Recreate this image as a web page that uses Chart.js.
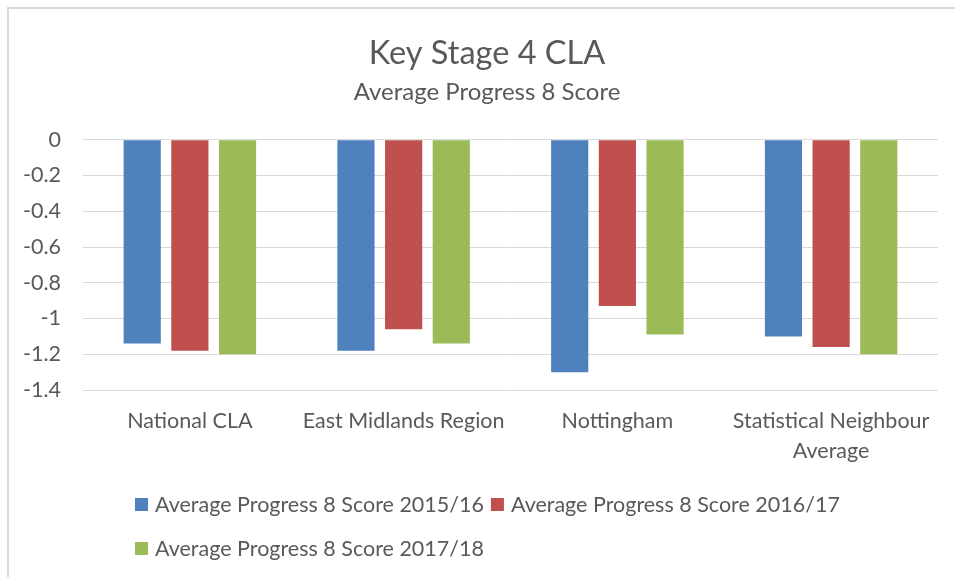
<!DOCTYPE html>
<html>
<head>
<meta charset="utf-8">
<title>Key Stage 4 CLA</title>
<script src="https://cdn.jsdelivr.net/npm/chart.js@4.4.0/dist/chart.umd.min.js"></script>
<style>
  html, body { margin: 0; padding: 0; background: #fff; }
  #frame { position: absolute; left: 7px; top: 7px; width: 1000px; height: 1000px; border: 2px solid #d9d9d9; box-sizing: border-box; }
  #wrap { position: absolute; left: 0; top: 0; width: 955px; height: 577px; }
</style>
</head>
<body>
<div id="frame"></div>
<div id="wrap"><canvas id="chart"></canvas></div>
<script>
const categories = ['National CLA', 'East Midlands Region', 'Nottingham', ['Statistical Neighbour', 'Average']];
const seriesNames = ['Average Progress 8 Score 2015/16', 'Average Progress 8 Score 2016/17', 'Average Progress 8 Score 2017/18'];
const score1516 = [-1.14, -1.18, -1.30, -1.10];
const score1617 = [-1.18, -1.06, -0.93, -1.16];
const score1718 = [-1.20, -1.14, -1.09, -1.20];
const seriesColors = ['#4f81bd', '#c0504d', '#9bbb59'];

const FONT = 'Lato';
const TEXT = '#595959';

// Excel-style legend: rows start at the same x instead of being centred
const legendPlugin = {
  id: 'excelLegend',
  afterDraw(chart) {
    const ctx = chart.ctx;
    ctx.save();
    ctx.font = '21.5px ' + FONT;
    ctx.textBaseline = 'middle';
    let x = 135, y = 504;
    chart.data.datasets.forEach(ds => {
      const w = 13 + 7 + ctx.measureText(ds.label).width;
      if (x > 135 && x + w > 880) { x = 135; y += 44; }
      ctx.fillStyle = ds.backgroundColor;
      ctx.fillRect(x, y - 6, 13, 13);
      ctx.fillStyle = TEXT;
      ctx.fillText(ds.label, x + 20, y + 1);
      x += w + 7;
    });
    ctx.restore();
  }
};

new Chart(document.getElementById('chart'), {
  type: 'bar',
  data: {
    labels: categories,
    datasets: [
      { label: seriesNames[0], data: score1516, backgroundColor: seriesColors[0] },
      { label: seriesNames[1], data: score1617, backgroundColor: seriesColors[1] },
      { label: seriesNames[2], data: score1718, backgroundColor: seriesColors[2] }
    ]
  },
  options: {
    responsive: true,
    maintainAspectRatio: false,
    animation: false,
    categoryPercentage: 0.669,
    barPercentage: 0.78,
    // uneven side padding puts the titles' centre where Excel has it
    layout: { padding: { left: 20, right: 1, top: 0, bottom: 100 } },
    plugins: {
      legend: { display: false },
      tooltip: { enabled: false },
      title: {
        display: true,
        text: 'Key Stage 4 CLA',
        color: TEXT,
        font: { family: FONT, size: 32.5, weight: 'normal', lineHeight: 1.2 },
        padding: { top: 34, bottom: 0 }
      },
      subtitle: {
        display: true,
        text: 'Average Progress 8 Score',
        color: TEXT,
        font: { family: FONT, size: 24, lineHeight: 1.2 },
        padding: { top: 5, bottom: 33 }
      }
    },
    scales: {
      x: {
        grid: { display: false, drawTicks: false },
        border: { display: false },
        ticks: {
          color: TEXT,
          font: { family: FONT, size: 21.5, lineHeight: 1.4 },
          padding: 16,
          maxRotation: 0,
          autoSkip: false
        },
        afterFit(s) { s.height = 87; }
      },
      y: {
        min: -1.4,
        max: 0,
        grid: { color: '#d9d9d9', lineWidth: 1, drawTicks: false },
        border: { display: false },
        ticks: {
          stepSize: 0.2,
          color: TEXT,
          font: { family: FONT, size: 21.5 },
          padding: 22,
          callback: v => String(Math.round(v * 10) / 10)
        },
        afterFit(s) { s.width = 63; }
      },
      // empty spacer axis so the plot ends before the right edge
      spacer: {
        type: 'linear',
        position: 'right',
        grid: { display: false },
        border: { display: false },
        ticks: { display: false },
        afterFit(s) { s.width = 16; }
      }
    }
  },
  plugins: [legendPlugin]
});
</script>
</body>
</html>
